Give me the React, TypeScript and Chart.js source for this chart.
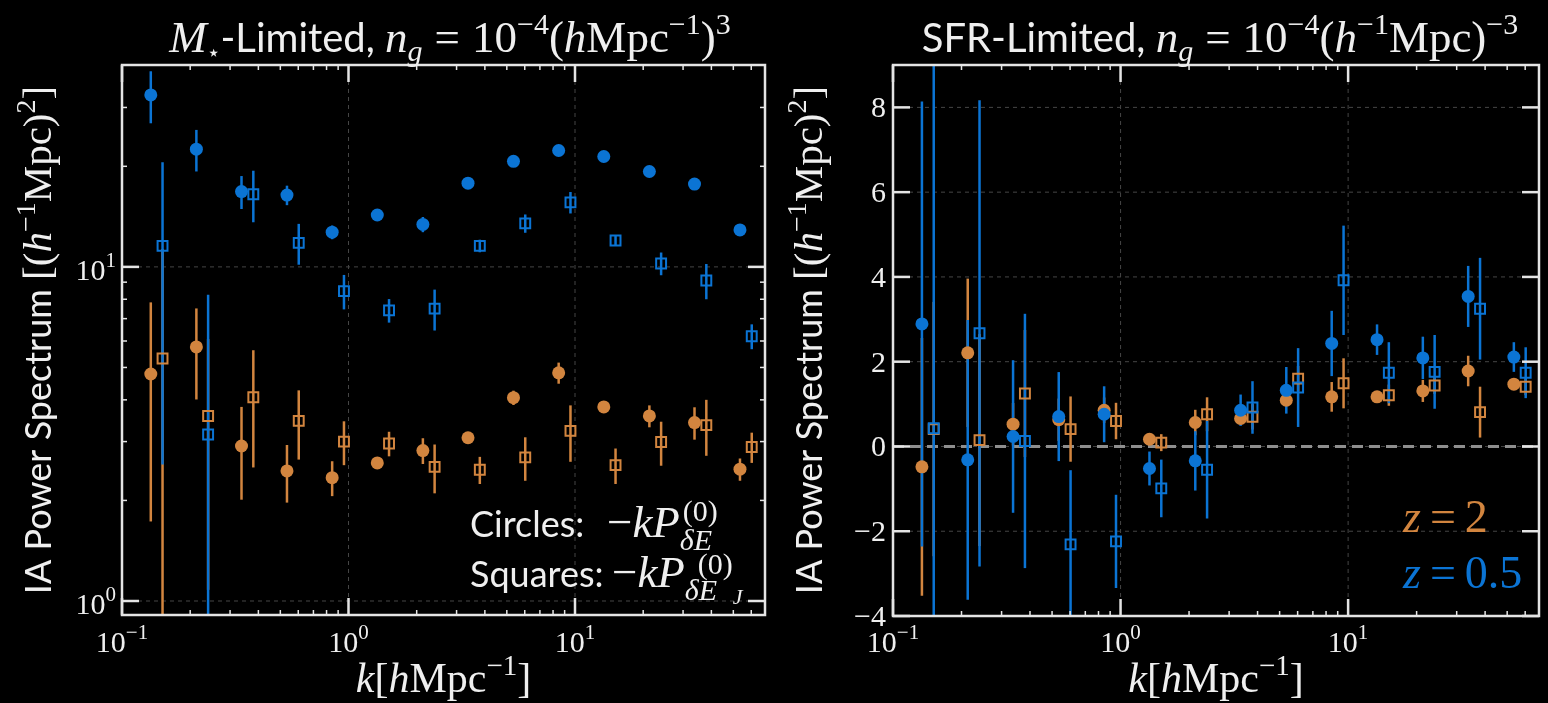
import React, { useEffect, useRef } from 'react';
import { Chart, registerables } from 'chart.js';
Chart.register(...registerables);

// ---------------- data ----------------
const kCircle = [0.134, 0.213, 0.337, 0.535, 0.847, 1.34, 2.13, 3.37, 5.35, 8.47, 13.4, 21.3, 33.7, 53.5];
const kSquare = [0.151, 0.240, 0.380, 0.603, 0.955, 1.51, 2.40, 3.80, 6.03, 9.55, 15.1, 24.0, 38.0, 60.3];

// M*-limited panel (log y)
const mBlueCirc = [32.7, 22.5, 16.8, 16.4, 12.7, 14.3, 13.4, 17.8, 20.7, 22.3, 21.4, 19.3, 17.7, 12.9];
const mBlueCircErr = [5.8, 3.2, 1.9, 1.1, 0.6, 0.3, 0.7, 0.3, 0.3, 0.3, 0.3, 0.3, 0.3, 0.3];
const mBlueSq = [11.56, 3.15, 16.5, 11.8, 8.46, 7.41, 7.5, 11.56, 13.5, 15.6, 12.0, 10.24, 9.1, 6.2];
const mBlueSqErr = [9.0, 5.1, 2.9, 1.65, 1.0, 0.6, 1.05, 0.5, 0.85, 1.15, 0.4, 0.8, 1.1, 0.53];
const mOrCirc = [4.78, 5.76, 2.91, 2.45, 2.34, 2.59, 2.82, 3.08, 4.06, 4.82, 3.81, 3.58, 3.42, 2.48];
const mOrCircErr = [3.05, 1.75, 0.9, 0.48, 0.28, 0.1, 0.25, 0.1, 0.2, 0.35, 0.15, 0.27, 0.38, 0.19];
const mOrSq = [5.32, 3.58, 4.07, 3.46, 3.0, 2.96, 2.52, 2.47, 2.69, 3.23, 2.55, 2.99, 3.36, 2.89];
const mOrSqErr = [6.0, 2.5, 1.56, 0.81, 0.45, 0.25, 0.42, 0.23, 0.4, 0.62, 0.31, 0.45, 0.64, 0.3];

// SFR-limited panel (linear y)
const sBlueCirc = [2.89, -0.315, 0.235, 0.705, 0.76, -0.52, -0.34, 0.855, 1.325, 2.43, 2.52, 2.09, 3.54, 2.11];
const sBlueCircErr = [5.25, 3.3, 1.8, 1.05, 0.66, 0.4, 0.7, 0.37, 0.55, 0.77, 0.36, 0.5, 0.72, 0.35];
const sBlueSq = [0.43, 2.67, 0.13, -2.31, -2.24, -0.99, -0.55, 0.92, 1.39, 3.92, 1.74, 1.76, 3.25, 1.74];
const sBlueSqErr = [10.0, 5.5, 3.0, 1.75, 1.1, 0.68, 1.15, 0.62, 0.93, 1.29, 0.72, 0.87, 1.2, 0.6];
const sOrCirc = [-0.48, 2.21, 0.525, 0.63, 0.855, 0.17, 0.565, 0.66, 1.09, 1.17, 1.17, 1.31, 1.78, 1.47];
const sOrCircErr = [3.04, 1.75, 0.5, 0.5, 0.3, 0.1, 0.3, 0.1, 0.1, 0.35, 0.1, 0.26, 0.36, 0.1];
const sOrSq = [0.41, 0.15, 1.25, 0.41, 0.6, 0.09, 0.76, 0.7, 1.6, 1.49, 1.21, 1.44, 0.81, 1.41];
const sOrSqErr = [3.0, 2.5, 1.5, 0.77, 0.43, 0.2, 0.4, 0.3, 0.3, 0.59, 0.25, 0.2, 0.6, 0.2];

// ticks
const xMajorTicks = [0.1, 1, 10];
const xTickExps = ['−1', '0', '1'];
const mYMajorTicks = [1, 10];
const mYTickExps = ['0', '1'];
const sYMajorTicks = [-4, -2, 0, 2, 4, 6, 8];
const sYTickLabels = ['−4', '−2', '0', '2', '4', '6', '8'];

// ---------------- style ----------------
const BLUE = '#0b74d4';
const ORANGE = '#d2853f';
const FRAME = '#e4e4e4';
const TEXT = '#efefef';
const GRID = '#454545';
const SERIF = '"Liberation Serif", "DejaVu Serif", serif';
const SANS = 'Lato, "Liberation Sans", "DejaVu Sans", sans-serif';

type Seg = { t: string; s: number; f?: string; it?: boolean; dy?: number; dx?: number; stay?: boolean };
const mi = (t: string, s: number, dy = 0): Seg => ({ t, s, it: true, dy });
const rm = (t: string, s: number, dy = 0): Seg => ({ t, s, dy });
const sf = (t: string, s: number): Seg => ({ t, s, f: SANS });
const sp = (n: number): Seg => ({ t: '', s: 10, dx: n });

const fontOf = (g: Seg) => `${g.it ? 'italic ' : ''}${g.s}px ${g.f || SERIF}`;

function layoutRich(ctx: CanvasRenderingContext2D, segs: Seg[]) {
  let x = 0;
  let pend = 0;
  const pos: number[] = [];
  for (const g of segs) {
    ctx.font = fontOf(g);
    const w = ctx.measureText(g.t).width + (g.dx || 0);
    pos.push(x);
    if (g.stay) pend = w;
    else {
      x += Math.max(w, pend);
      pend = 0;
    }
  }
  return { pos, width: x };
}

function drawRich(ctx: CanvasRenderingContext2D, segs: Seg[], x: number, y: number, align: 'left' | 'center' | 'right', color: string) {
  const { pos, width } = layoutRich(ctx, segs);
  const x0 = align === 'center' ? x - width / 2 : align === 'right' ? x - width : x;
  ctx.fillStyle = color;
  ctx.textAlign = 'left';
  ctx.textBaseline = 'alphabetic';
  segs.forEach((g, i) => {
    if (!g.t) return;
    ctx.font = fontOf(g);
    ctx.fillText(g.t, x0 + pos[i] + (g.dx || 0), y + (g.dy || 0));
  });
}

function drawRotated(ctx: CanvasRenderingContext2D, segs: Seg[], x: number, y: number, color: string) {
  ctx.save();
  ctx.translate(x, y);
  ctx.rotate(-Math.PI / 2);
  drawRich(ctx, segs, 0, 0, 'center', color);
  ctx.restore();
}

const yLabelSegs: Seg[] = [
  sf('IA Power Spectrum ', 36),
  rm('[(', 41), mi('h', 41), rm('−1', 28, -16), rm('Mpc', 41), rm(')', 41), rm('2', 28, -16), rm(']', 41),
];
const xLabelSegs: Seg[] = [mi('k', 42), rm('[', 42), mi('h', 42), rm('Mpc', 42), rm('−1', 29, -17), rm(']', 42)];

function minorValues(lo: number, hi: number) {
  const out: number[] = [];
  for (let d = 0.1; d <= 100; d *= 10) {
    for (let m = 2; m <= 9; m++) {
      const v = m * d;
      if (v > lo && v < hi) out.push(v);
    }
  }
  return out;
}

interface Spec {
  offset: number;
  log: boolean;
  yMin: number;
  yMax: number;
  yMajor: number[];
  yMinor: number[];
  yAxisW: number;
  xAxisH: number;
  padRight: number;
  zeroLine: boolean;
  series: { x: number[]; y: number[]; err: number[]; color: string; shape: 'circle' | 'rect' }[];
  texts: (ctx: CanvasRenderingContext2D, chart: any) => void;
}

function line(ctx: CanvasRenderingContext2D, x1: number, y1: number, x2: number, y2: number) {
  ctx.beginPath();
  ctx.moveTo(x1, y1);
  ctx.lineTo(x2, y2);
  ctx.stroke();
}

function makePlugin(spec: Spec) {
  return {
    id: 'panelDecor',
    beforeDatasetsDraw(chart: any) {
      const { ctx, chartArea: a } = chart;
      const xs = chart.scales.x;
      const ys = chart.scales.y;
      ctx.save();
      ctx.beginPath();
      ctx.rect(a.left, a.top, a.right - a.left, a.bottom - a.top);
      ctx.clip();
      // grid
      ctx.strokeStyle = GRID;
      ctx.lineWidth = 1;
      ctx.setLineDash([4, 4]);
      for (const v of xMajorTicks) {
        const px = xs.getPixelForValue(v);
        if (px < a.left + 3 || px > a.right - 3) continue;
        line(ctx, px, a.top, px, a.bottom);
      }
      for (const v of spec.yMajor) {
        const py = ys.getPixelForValue(v);
        if (py < a.top + 3 || py > a.bottom - 3) continue;
        line(ctx, a.left, py, a.right, py);
      }
      if (spec.zeroLine) {
        ctx.strokeStyle = '#8e8e8e';
        ctx.lineWidth = 3;
        ctx.setLineDash([11, 6]);
        const py = ys.getPixelForValue(0);
        line(ctx, a.left, py, a.right, py);
      }
      ctx.setLineDash([]);
      // error bars (orange first, then blue)
      ctx.lineWidth = 2.5;
      ctx.lineCap = 'butt';
      for (const s of spec.series) {
        ctx.strokeStyle = s.color;
        s.x.forEach((xv, i) => {
          const yv = s.y[i];
          const e = s.err[i];
          const px = xs.getPixelForValue(xv);
          const hi = ys.getPixelForValue(yv + e);
          const lo = spec.log && yv - e <= 0 ? a.bottom + 20 : ys.getPixelForValue(yv - e);
          line(ctx, px, hi, px, lo);
        });
      }
      ctx.restore();
    },
    afterDatasetsDraw(chart: any) {
      const { ctx, chartArea: a } = chart;
      const xs = chart.scales.x;
      const ys = chart.scales.y;
      ctx.save();
      ctx.strokeStyle = FRAME;
      // ticks
      const MAJ = 17;
      const MIN = 5;
      ctx.lineWidth = 2.5;
      for (const v of xMajorTicks) {
        const px = xs.getPixelForValue(v);
        if (px < a.left - 1 || px > a.right + 1) continue;
        line(ctx, px, a.bottom, px, a.bottom - MAJ);
        line(ctx, px, a.top, px, a.top + MAJ);
      }
      for (const v of spec.yMajor) {
        const py = ys.getPixelForValue(v);
        if (py < a.top - 1 || py > a.bottom + 1) continue;
        line(ctx, a.left, py, a.left + MAJ, py);
        line(ctx, a.right, py, a.right - MAJ, py);
      }
      ctx.lineWidth = 1.5;
      for (const v of minorValues(0.1, 69)) {
        const px = xs.getPixelForValue(v);
        line(ctx, px, a.bottom, px, a.bottom - MIN);
        line(ctx, px, a.top, px, a.top + MIN);
      }
      for (const v of spec.yMinor) {
        const py = ys.getPixelForValue(v);
        line(ctx, a.left, py, a.left + MIN, py);
        line(ctx, a.right, py, a.right - MIN, py);
      }
      // frame
      ctx.lineWidth = 2.5;
      ctx.strokeRect(a.left, a.top, a.right - a.left, a.bottom - a.top);
      // x tick labels
      xMajorTicks.forEach((v, i) => {
        const px = xs.getPixelForValue(v);
        drawRich(ctx, [rm('10', 30), rm(xTickExps[i], 21, -13)], px, 652, 'center', TEXT);
      });
      // x label
      drawRich(ctx, xLabelSegs, (a.left + a.right) / 2, 692, 'center', TEXT);
      spec.texts(ctx, chart);
      ctx.restore();
    },
  };
}

const leftSpec: Spec = {
  offset: 0,
  log: true,
  yMin: 0.908,
  yMax: 40.2,
  yMajor: mYMajorTicks,
  yMinor: [2, 3, 4, 5, 6, 7, 8, 9, 20, 30],
  yAxisW: 122,
  xAxisH: 88,
  padRight: 1,
  zeroLine: false,
  series: [
    { x: kCircle, y: mOrCirc, err: mOrCircErr, color: ORANGE, shape: 'circle' },
    { x: kSquare, y: mOrSq, err: mOrSqErr, color: ORANGE, shape: 'rect' },
    { x: kCircle, y: mBlueCirc, err: mBlueCircErr, color: BLUE, shape: 'circle' },
    { x: kSquare, y: mBlueSq, err: mBlueSqErr, color: BLUE, shape: 'rect' },
  ],
  texts: (ctx, chart) => {
    const ys = chart.scales.y;
    mYMajorTicks.forEach((v, i) => {
      const py = ys.getPixelForValue(v);
      drawRich(ctx, [rm('10', 30), rm(mYTickExps[i], 21, -13)], 116, py + 13, 'right', TEXT);
    });
    drawRich(ctx, [
      mi('M', 45), { t: '⋆', s: 22, f: '"DejaVu Sans"', dy: 8 }, sf('-Limited, ', 40),
      mi('n', 45), mi('g', 30, 9), sp(12), rm('=', 45), sp(12), rm('10', 45), rm('−4', 30, -18),
      rm('(', 45), mi('h', 45), rm('Mpc', 45), rm('−1', 30, -18), rm(')', 45), rm('3', 30, -18),
    ], 450, 52, 'center', TEXT);
    drawRotated(ctx, yLabelSegs, 51, 340, TEXT);
    drawRich(ctx, [sf('Circles:', 36)], 470, 537, 'left', TEXT);
    drawRich(ctx, [rm('−', 45), mi('k', 45), mi('P', 45), { t: '(0)', s: 30, dy: -16, dx: 3, stay: true }, { t: 'δE', s: 30, it: true, dy: 13 }], 607, 537, 'left', TEXT);
    drawRich(ctx, [sf('Squares:', 36)], 470, 587, 'left', TEXT);
    drawRich(ctx, [rm('−', 45), mi('k', 45), mi('P', 45), { t: '(0)', s: 30, dy: -13, dx: 13, stay: true }, { t: 'δE', s: 30, it: true, dy: 13 }, { t: 'J', s: 22, it: true, dy: 17 }], 612, 587, 'left', TEXT);
  },
};

const rightSpec: Spec = {
  offset: 774,
  log: false,
  yMin: -4,
  yMax: 9,
  yMajor: sYMajorTicks,
  yMinor: [],
  yAxisW: 119,
  xAxisH: 87,
  padRight: 3,
  zeroLine: true,
  series: [
    { x: kCircle, y: sOrCirc, err: sOrCircErr, color: ORANGE, shape: 'circle' },
    { x: kSquare, y: sOrSq, err: sOrSqErr, color: ORANGE, shape: 'rect' },
    { x: kCircle, y: sBlueCirc, err: sBlueCircErr, color: BLUE, shape: 'circle' },
    { x: kSquare, y: sBlueSq, err: sBlueSqErr, color: BLUE, shape: 'rect' },
  ],
  texts: (ctx, chart) => {
    const ys = chart.scales.y;
    const o = 774;
    sYMajorTicks.forEach((v, i) => {
      const py = ys.getPixelForValue(v);
      drawRich(ctx, [rm(sYTickLabels[i], 30)], 886 - o, py + 10, 'right', TEXT);
    });
    drawRich(ctx, [
      sf('SFR-Limited, ', 40),
      mi('n', 45), mi('g', 30, 9), sp(12), rm('=', 45), sp(12), rm('10', 45), rm('−4', 30, -18),
      rm('(', 45), mi('h', 45), rm('−1', 30, -18), rm('Mpc', 45), rm(')', 45), rm('−3', 30, -18),
    ], 1220 - o, 52, 'center', TEXT);
    drawRotated(ctx, yLabelSegs, 822 - o, 340, TEXT);
    drawRich(ctx, [mi('z', 46), sp(9), rm('=', 46), sp(9), rm('2', 46)], 1403 - o, 532, 'left', ORANGE);
    drawRich(ctx, [mi('z', 46), sp(9), rm('=', 46), sp(9), rm('0.5', 46)], 1403 - o, 588, 'left', BLUE);
  },
};

function buildConfig(spec: Spec): any {
  const datasets = spec.series.map((s, idx) => ({
    label: `s${idx}`,
    data: s.x.map((x, i) => ({ x, y: s.y[i] })),
    pointStyle: s.shape,
    pointRadius: s.shape === 'circle' ? 6.5 : 7,
    pointHoverRadius: s.shape === 'circle' ? 6.5 : 7,
    pointBackgroundColor: s.shape === 'circle' ? s.color : 'rgba(0,0,0,0)',
    pointBorderColor: s.color,
    pointBorderWidth: s.shape === 'circle' ? 0 : 2,
    showLine: false,
    order: spec.series.length - idx,
  }));
  return {
    type: 'scatter',
    data: { datasets },
    options: {
      responsive: false,
      animation: false,
      devicePixelRatio: 1,
      events: [],
      layout: { padding: { left: 0, top: 65, right: spec.padRight, bottom: 0 } },
      plugins: { legend: { display: false }, tooltip: { enabled: false }, title: { display: false } },
      scales: {
        x: {
          type: 'logarithmic',
          min: 0.1,
          max: 69,
          ticks: { display: false },
          grid: { display: false },
          border: { display: false },
          afterFit: (s: any) => { s.height = spec.xAxisH; },
        },
        y: {
          type: spec.log ? 'logarithmic' : 'linear',
          min: spec.yMin,
          max: spec.yMax,
          ticks: { display: false },
          grid: { display: false },
          border: { display: false },
          afterFit: (s: any) => { s.width = spec.yAxisW; },
        },
      },
    },
    plugins: [makePlugin(spec)],
  };
}

function Panel({ spec }: { spec: Spec }) {
  const ref = useRef<HTMLCanvasElement>(null);
  useEffect(() => {
    const chart = new Chart(ref.current as HTMLCanvasElement, buildConfig(spec));
    return () => chart.destroy();
  }, [spec]);
  return (
    <canvas
      ref={ref}
      width={774}
      height={703}
      style={{ position: 'absolute', left: spec.offset, top: 0, width: 774, height: 703, display: 'block' }}
    />
  );
}

export default function App() {
  return (
    <div style={{ position: 'fixed', left: 0, top: 0, width: 1548, height: 703, background: '#000', overflow: 'hidden' }}>
      <Panel spec={leftSpec} />
      <Panel spec={rightSpec} />
    </div>
  );
}
